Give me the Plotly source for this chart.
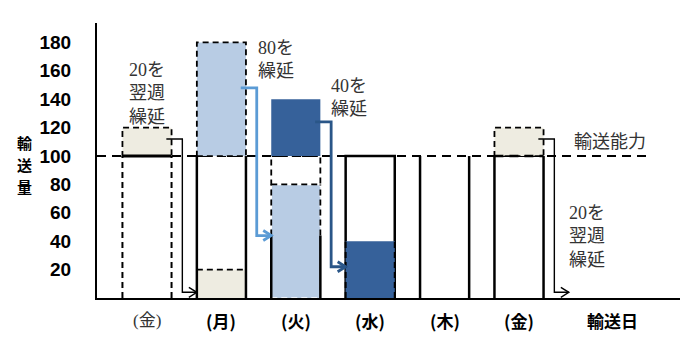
import plotly.graph_objects as go

# ---------------- data ----------------
days = ["(金)", "(月)", "(火)", "(水)", "(木)", "(金)"]
x_title = "輸送日"
y_title = "輸送量"
y_ticks = [20, 40, 60, 80, 100, 120, 140, 160, 180]
capacity = 100
carried_in = [0, 20, 80, 40, 0, 0]      # volume carried in (from previous day / previous week)
overflow = [20, 80, 40, 0, 0, 20]       # volume above capacity, carried forward
notes = ["20を<br>翌週<br>繰延", "80を<br>繰延", "40を<br>繰延", "", "", "20を<br>翌週<br>繰延"]
capacity_label = "輸送能力"

# ---------------- geometry / style ----------------
W, H = 695, 344
ML, MR, MT, MB = 97, 15, 23, 46
X_RANGE = [-0.672, 7.164]
Y_RANGE = [0, 193.7]
UX = (X_RANGE[1] - X_RANGE[0]) / (W - ML - MR)   # data units per pixel (x)
UY = (Y_RANGE[1] - Y_RANGE[0]) / (H - MT - MB)   # data units per pixel (y)
BW = 0.66
hw = BW / 2

BEIGE = "#EEECE1"
LBLUE = "#B8CCE4"
DBLUE = "#36619A"
ARROW_L = "#5B9BD5"
ARROW_D = "#2A5688"
DASH = "6px,4px"
CAP_DASH = "9px,6px"

shapes = []


def rect(x0, x1, y0, y1, fill="rgba(0,0,0,0)", color="rgba(0,0,0,0)", width=0, dash="solid"):
    shapes.append(dict(type="rect", xref="x", yref="y", x0=x0, x1=x1, y0=y0, y1=y1,
                       fillcolor=fill, line=dict(color=color, width=width, dash=dash)))


def seg(x0, y0, x1, y1, color="black", width=2.5, dash="solid"):
    shapes.append(dict(type="line", xref="x", yref="y", x0=x0, y0=y0, x1=x1, y1=y1,
                       line=dict(color=color, width=width, dash=dash)))


def sides(c, y0, y1, **kw):
    seg(c - hw, y0, c - hw, y1, **kw)
    seg(c + hw, y0, c + hw, y1, **kw)


# capacity line (drawn first, bars on top)
seg(X_RANGE[0], capacity, 6.76, capacity, width=2, dash=CAP_DASH)

# ---- previous Friday ----
c = 0
rect(c - hw, c + hw, 0, capacity, fill="white")
sides(c, 0, capacity, width=2, dash=DASH)
rect(c - hw, c + hw, capacity, capacity + overflow[c], fill=BEIGE, color="black", width=1.8, dash=DASH)
seg(c - hw, capacity, c + hw, capacity, width=3)

# ---- Monday ----
c = 1
rect(c - hw, c + hw, 0, carried_in[c], fill=BEIGE)
seg(c - hw, carried_in[c], c + hw, carried_in[c], width=1.8, dash=DASH)
sides(c, 0, capacity)
rect(c - hw, c + hw, capacity, capacity + overflow[c], fill=LBLUE, color="black", width=1.8, dash=DASH)

# ---- Tuesday ----
c = 2
arrow_y_tue = carried_in[c] * 0.55
rect(c - hw, c + hw, 0, carried_in[c], fill=LBLUE, color="white", width=1.5, dash=DASH)
rect(c - hw, c + hw, carried_in[c], capacity, color="black", width=1.8, dash=DASH)
sides(c, arrow_y_tue, carried_in[c], width=1.8, dash=DASH)
sides(c, 0, arrow_y_tue)
rect(c - hw, c + hw, capacity, capacity + overflow[c], fill=DBLUE)

# ---- Wednesday ----
c = 3
rect(c - hw, c + hw, 0, capacity, fill="white", color="black", width=2.5)
rect(c - hw, c + hw, 0, carried_in[c], fill=DBLUE)
sides(c, 0, carried_in[c], width=2, dash=DASH)

# ---- Thursday ----
c = 4
sides(c, 0, capacity)

# ---- Friday ----
c = 5
sides(c, 0, capacity)
rect(c - hw, c + hw, capacity, capacity + overflow[c], fill=BEIGE, color="black", width=1.8, dash=DASH)
seg(c - hw, capacity, c + hw, capacity, width=2.5, dash=CAP_DASH)

# ---- carry-over arrows ----
arrow_styles = {0: ("black", 1.4), 1: (ARROW_L, 2.8), 2: (ARROW_D, 2.8), 5: ("black", 1.4)}
for i, (col, lw) in arrow_styles.items():
    xs = i + 0.26
    ys = capacity + overflow[i] * 0.6
    xe_bend = i + hw + 0.145
    if i != 5:
        week_carry = (i == 0)
        ye = 4 if week_carry else carried_in[i + 1] * 0.55
        xe = i + 1 - hw
    else:
        ye = 4
        xe = i + hw + 0.34
    shapes.append(dict(type="path", xref="x", yref="y",
                       path=f"M {xs},{ys} L {xe_bend},{ys} L {xe_bend},{ye} L {xe},{ye}",
                       line=dict(color=col, width=lw)))
    ax, ay = 8 * UX, 5 * UY
    shapes.append(dict(type="path", xref="x", yref="y",
                       path=f"M {xe-ax},{ye+ay} L {xe},{ye} L {xe-ax},{ye-ay}",
                       line=dict(color=col, width=lw)))

# ---------------- annotations ----------------
NOTE_FONT = dict(family="Liberation Serif, Noto Sans CJK JP", size=18, color="#333333")
note_pos = {0: (0.0, 144), 1: (1.73, 168), 2: (2.72, 141), 5: (5.91, 43)}
annotations = []
for i, (nx, ny) in note_pos.items():
    annotations.append(dict(x=nx, y=ny, xref="x", yref="y", text=notes[i], showarrow=False,
                            font=NOTE_FONT, xanchor="center", yanchor="middle", align="left"))
annotations.append(dict(x=6.22, y=capacity + 10, xref="x", yref="y", text=capacity_label,
                        showarrow=False, font=NOTE_FONT, xanchor="center", yanchor="middle"))

for i, d in enumerate(days):
    if i == 0:
        txt, fnt = d, dict(family="Liberation Serif, Noto Sans CJK JP", size=17, color="#333333")
    else:
        txt, fnt = f"<b>{d}</b>", dict(family="Noto Sans CJK JP", size=17, color="black")
    annotations.append(dict(x=i, y=0, xref="x", yref="paper", text=txt, showarrow=False,
                            font=fnt, yshift=-22, xanchor="center", yanchor="middle"))
annotations.append(dict(x=6.26, y=0, xref="x", yref="paper", text=f"<b>{x_title}</b>", showarrow=False,
                        font=dict(family="Noto Sans CJK JP", size=17, color="black"),
                        yshift=-22, xanchor="center", yanchor="middle"))

# vertical y-axis title, one character per row (pixel rows converted to paper units)
for k, ch in enumerate(y_title):
    py = 142 + 22 * k
    annotations.append(dict(x=(24 - ML) / (W - ML - MR), y=(H - MB - py) / (H - MT - MB),
                            xref="paper", yref="paper", text=f"<b>{ch}</b>", showarrow=False,
                            font=dict(family="Noto Sans CJK JP", size=15, color="black"),
                            xanchor="center", yanchor="middle"))

fig = go.Figure()
fig.add_trace(go.Scatter(x=[None], y=[None], showlegend=False, hoverinfo="skip"))
fig.update_layout(
    width=W, height=H, margin=dict(l=ML, r=MR, t=MT, b=MB),
    paper_bgcolor="white", plot_bgcolor="white", showlegend=False,
    shapes=shapes, annotations=annotations,
    xaxis=dict(range=X_RANGE, showgrid=False, zeroline=False, showticklabels=False,
               showline=True, linecolor="black", linewidth=2, fixedrange=True),
    yaxis=dict(range=Y_RANGE, showgrid=False, zeroline=False, showline=True,
               linecolor="black", linewidth=2, tickvals=y_ticks, ticks="",
               ticklabelstandoff=20,
               tickfont=dict(family="Liberation Sans Narrow, Arial Narrow, Liberation Sans",
                             size=19, color="black", weight="bold"), fixedrange=True),
)
fig.write_html("out.html")
